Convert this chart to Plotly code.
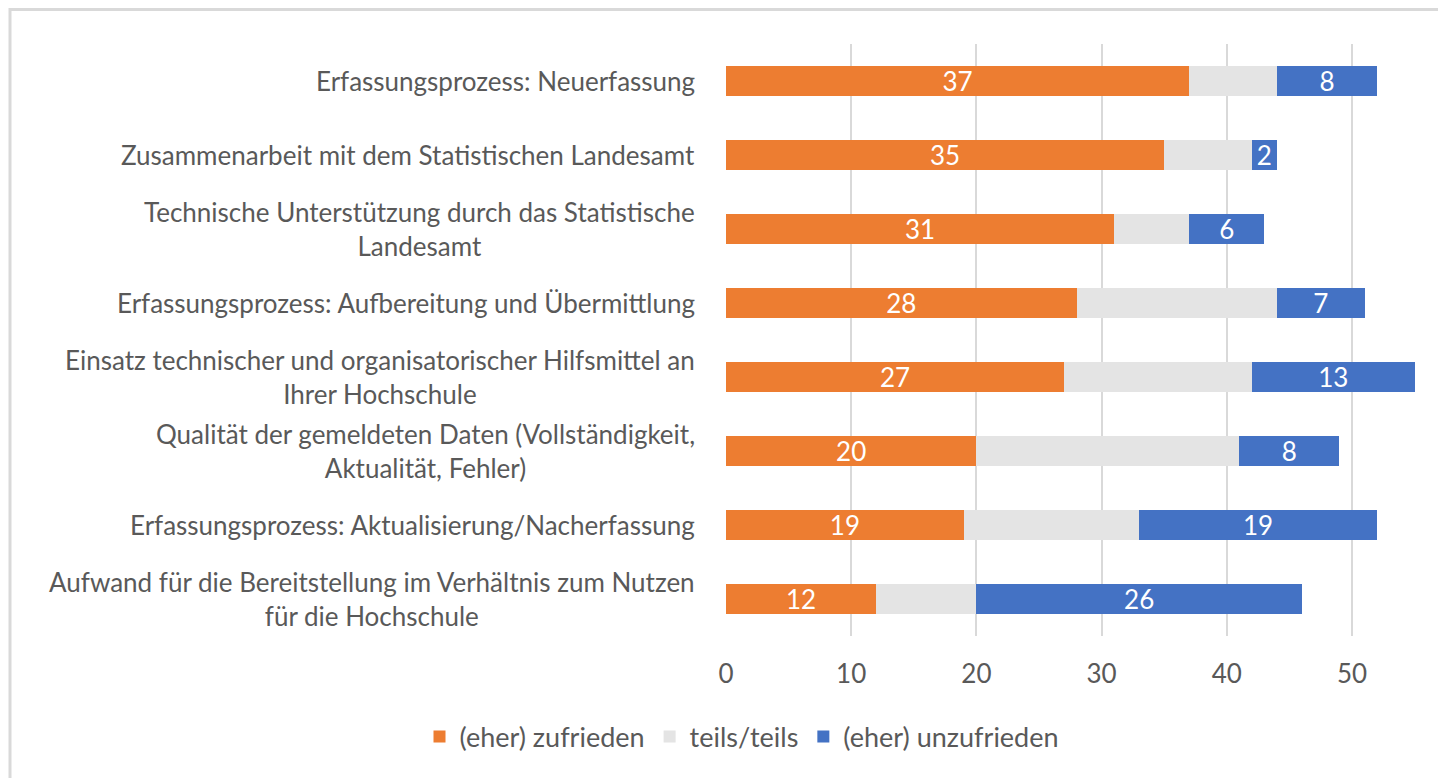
import plotly.graph_objects as go

categories = [
    "Erfassungsprozess: Neuerfassung",
    "Zusammenarbeit mit dem Statistischen Landesamt",
    "Technische Unterstützung durch das Statistische<br>Landesamt",
    "Erfassungsprozess: Aufbereitung und Übermittlung",
    "Einsatz technischer und organisatorischer Hilfsmittel an<br>Ihrer Hochschule",
    "Qualität der gemeldeten Daten (Vollständigkeit,<br>Aktualität, Fehler)",
    "Erfassungsprozess: Aktualisierung/Nacherfassung",
    "Aufwand für die Bereitstellung im Verhältnis zum Nutzen<br>für die Hochschule",
]
zufrieden = [37, 35, 31, 28, 27, 20, 19, 12]
teils = [7, 7, 6, 16, 15, 21, 14, 8]
unzufrieden = [8, 2, 6, 7, 13, 8, 19, 26]
x_ticks = [0, 10, 20, 30, 40, 50]

FONT = "Lato"
GREY_TXT = "#595959"
FS = 26

# page body has an 8px margin; positions below are in div pixels
OFF = 8
W, H = 1446, 778
L, R, T, B = 726 - OFF, 8, 44 - OFF, 778 - (636 - OFF)
pw, ph = W - L - R, H - T - B
PX_PER_UNIT = 12.52


def px_x(px):
    return (px - OFF - L) / pw


def px_y(py):
    return (H - B - (py - OFF)) / ph


fig = go.Figure()
series = [
    ("(eher) zufrieden", zufrieden, "#ED7D31", True),
    ("teils/teils", teils, "#E4E4E4", False),
    ("(eher) unzufrieden", unzufrieden, "#4472C4", True),
]
for name, vals, col, lab in series:
    fig.add_trace(go.Bar(
        y=categories, x=vals, name=name, orientation="h",
        marker=dict(color=col, line=dict(width=0)),
        text=[str(v) for v in vals] if lab else None,
        textposition="inside" if lab else "none",
        insidetextanchor="middle",
        textangle=0,
        constraintext="none",
        textfont=dict(color="white", size=FS, family=FONT),
        hoverinfo="x+name",
    ))

for c in categories:
    fig.add_annotation(
        x=px_x(697), xref="paper", y=c, yref="y",
        text=c, showarrow=False, xanchor="right", yanchor="middle",
        align="center", font=dict(family=FONT, size=FS, color=GREY_TXT),
    )

fig.add_shape(type="rect", xref="paper", yref="paper",
              x0=px_x(10), x1=px_x(1500), y0=px_y(830), y1=px_y(9.5),
              line=dict(color="#D9D9D9", width=3), fillcolor="rgba(0,0,0,0)",
              layer="below")

fig.update_layout(
    width=W, height=H, autosize=False,
    barmode="stack", bargap=0.6,
    plot_bgcolor="white", paper_bgcolor="white",
    margin=dict(l=L, r=R, t=T, b=B, pad=0),
    uniformtext=dict(minsize=FS, mode="show"),
    font=dict(family=FONT, color=GREY_TXT, size=FS),
    xaxis=dict(range=[0, pw / PX_PER_UNIT], tickvals=x_ticks,
               showgrid=True, gridcolor="#D9D9D9", gridwidth=2,
               zeroline=False, showline=False, ticks="",
               tickfont=dict(family=FONT, size=FS, color=GREY_TXT),
               ticklabelstandoff=20, fixedrange=True),
    yaxis=dict(autorange="reversed", showticklabels=False, showgrid=False,
               zeroline=False, showline=False, ticks="", fixedrange=True),
    legend=dict(orientation="h", x=px_x(742), xanchor="center",
                y=px_y(737), yanchor="middle",
                font=dict(family=FONT, size=FS + 1, color=GREY_TXT),
                itemwidth=30, tracegroupgap=0, traceorder="normal",
                bgcolor="rgba(0,0,0,0)"),
    showlegend=True,
)

fig.write_html("out.html")
